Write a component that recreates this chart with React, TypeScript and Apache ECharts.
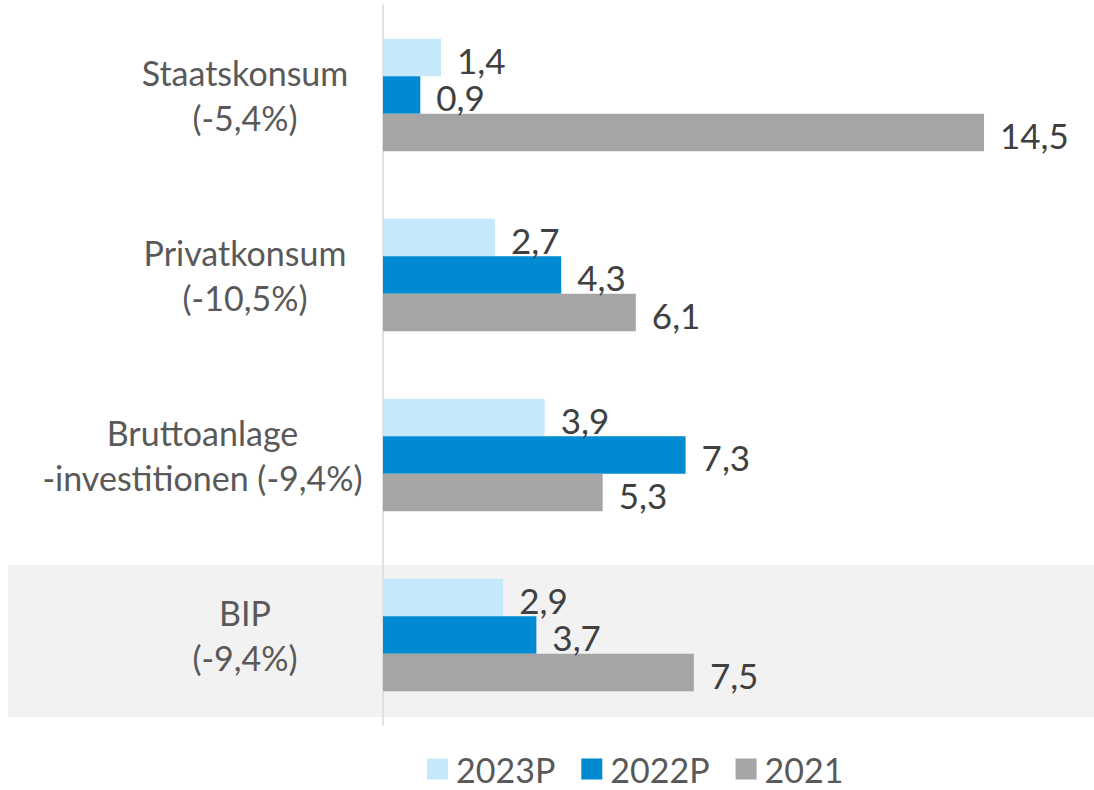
import React, { useEffect, useRef } from "react";
import * as echarts from "echarts";

const categories = ["Staatskonsum\n(-5,4%)", "Privatkonsum\n(-10,5%)", "Bruttoanlage\n-investitionen (-9,4%)", "BIP\n(-9,4%)"];
const seriesNames = ["2023P", "2022P", "2021"];
const values2023P = [1.4, 2.7, 3.9, 2.9];
const values2022P = [0.9, 4.3, 7.3, 3.7];
const values2021 = [14.5, 6.1, 5.3, 7.5];
const colors = ["#C5E9FB", "#008AD2", "#A5A5A5"];

export default function App() {
  const ref = useRef<HTMLDivElement>(null);
  useEffect(() => {
    if (!ref.current) return;
    const chart = echarts.init(ref.current, null, { renderer: "svg" });
    const font = "Lato";
    const mk = (name: string, data: number[], color: string) => ({
      name,
      type: "bar",
      data,
      barWidth: 37.5,
      barGap: "0%",
      itemStyle: { color },
      z: 3,
      label: {
        show: true,
        position: "right",
        distance: 16,
        offset: [0, 2],
        fontFamily: font,
        fontSize: 35,
        color: "#404040",
        formatter: (p: any) => String(p.value).replace(".", ","),
      },
    });
    chart.setOption({
      animation: false,
      graphic: [
        {
          type: "rect",
          z: -10,
          silent: true,
          shape: { x: 8, y: 565, width: 1086, height: 152 },
          style: { fill: "#F2F2F2" },
        },
      ],
      grid: { left: 383, top: 5, bottom: 65, width: 17 * 41.45, containLabel: false },
      legend: {
        left: 427,
        top: 752,
        padding: 0,
        icon: "rect",
        itemWidth: 21,
        itemHeight: 21,
        itemGap: 26,
        data: seriesNames,
        textStyle: { fontFamily: font, fontSize: 34, color: "#595959", padding: [0, 0, 0, 3] },
      },
      xAxis: {
        type: "value",
        min: 0,
        max: 17,
        show: false,
        splitLine: { show: false },
      },
      yAxis: {
        type: "category",
        inverse: true,
        data: categories,
        axisTick: { show: false },
        axisLine: { show: true, lineStyle: { color: "#D9D9D9", width: 1.5 } },
        axisLabel: {
          margin: 23,
          align: "right",
          formatter: (v: string) => {
            const wide = v.indexOf("investitionen") >= 0;
            const key = wide ? "w" : "n";
            return v
              .split("\n")
              .map((l) => `{${key}|${l}}`)
              .join("\n");
          },
          rich: {
            n: { width: 230, align: "center", fontFamily: font, fontSize: 34, color: "#595959", lineHeight: 45 },
            w: { width: 315, align: "center", fontFamily: font, fontSize: 34, color: "#595959", lineHeight: 45 },
          },
        },
      },
      series: [
        mk(seriesNames[0], values2023P, colors[0]),
        mk(seriesNames[1], values2022P, colors[1]),
        mk(seriesNames[2], values2021, colors[2]),
      ],
    });
    return () => chart.dispose();
  }, []);
  return (
    <div
      ref={ref}
      style={{ position: "fixed", left: 0, top: 0, width: 1094, height: 790, background: "#fff" }}
    />
  );
}
